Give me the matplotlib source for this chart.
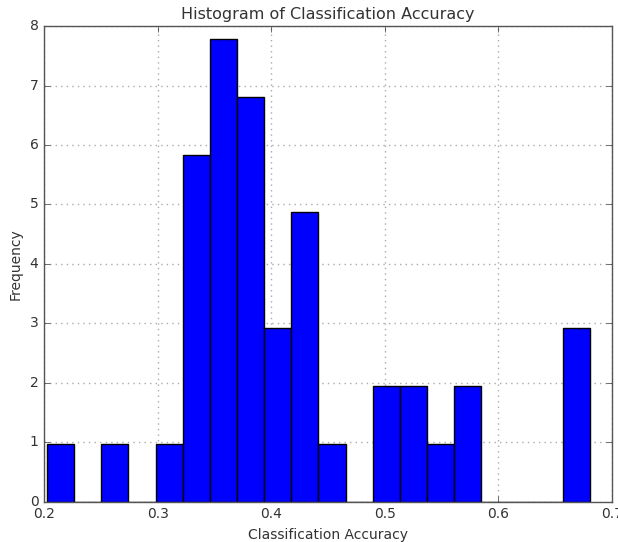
import numpy as np
import matplotlib
matplotlib.use("Agg")
import matplotlib.pyplot as plt

# histogram: 20 equal bins between lo and hi
acc_lo = 0.2026
acc_hi = 0.6806
n_bins = 20
counts = [1, 0, 1, 0, 1, 6, 8, 7, 3, 5, 1, 0, 2, 2, 1, 2, 0, 0, 0, 3]

title = "Histogram of Classification Accuracy"
x_label = "Classification Accuracy"
y_label = "Frequency"

plt.style.use("classic")
plt.rcParams["font.family"] = "DejaVu Sans"

edges = np.linspace(acc_lo, acc_hi, n_bins + 1)
centers = (edges[:-1] + edges[1:]) / 2

fig = plt.figure(figsize=(6.18, 5.42), dpi=100)
ax = fig.add_axes([0.0712, 0.074, 0.919, 0.878])
ax.hist(centers, bins=edges, weights=counts, density=True,
        facecolor="#0000ff", edgecolor="black", linewidth=1.0)

ax.set_xlim(0.2, 0.7)
ax.set_ylim(0, 8)
ax.set_xticks(np.arange(0.2, 0.71, 0.1))
ax.set_xticklabels(["0.2", "0.3", "0.4", "0.5", "0.6", "0.7"])
ax.grid(True, linestyle=":", color="#aaaaaa", linewidth=1.0)
ax.set_axisbelow(True)
for s in ax.spines.values():
    s.set_color("#555555")
ax.tick_params(labelsize=10, colors="#333333", labelcolor="#333333")

ax.set_title(title, fontsize=11.5, color="#333333")
ax.set_xlabel(x_label, fontsize=10, color="#333333")
ax.set_ylabel(y_label, fontsize=10, color="#333333")

fig.savefig("out.png", dpi=100, facecolor="white")
